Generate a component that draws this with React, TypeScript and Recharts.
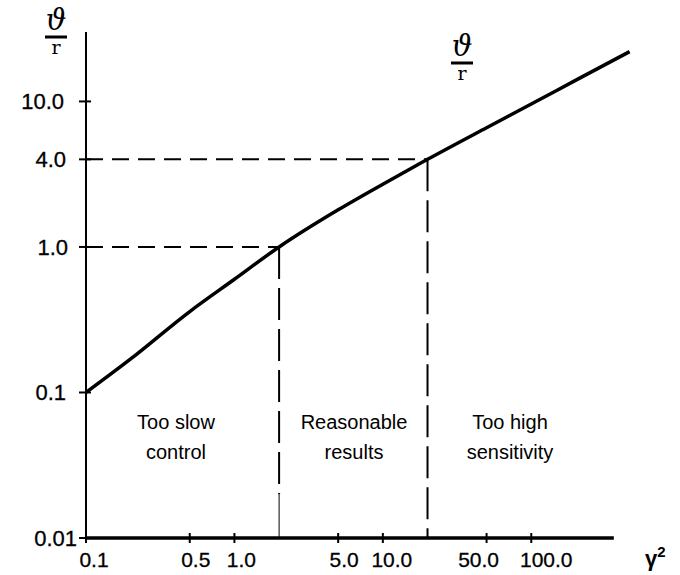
import { LineChart, Line, XAxis, YAxis, ReferenceLine } from 'recharts';

// gamma^2 (x) and theta/r (y)
const gammaSq = [0.1, 0.2, 0.5, 1, 2, 5, 10, 20, 50, 100, 200, 460];
const thetaR = [0.1, 0.17, 0.36, 0.6, 1.0, 1.8, 2.7, 4.0, 6.6, 9.6, 14, 22];

const xTicks = [0.1, 0.5, 1, 5, 10, 50, 100];
const xTickLabels = ['0.1', '0.5', '1.0', '5.0', '10.0', '50.0', '100.0'];
const yTicks = [0.01, 0.1, 1, 4, 10];
const yTickLabels = ['0.01', '0.1', '1.0', '4.0', '10.0'];

// region borders: gamma^2 and the theta/r they meet the curve at
const borderX = [2, 20];
const borderY = [1, 4];
const dashEndY = [0.02, 0.01]; // first border turns into a thin solid line near the axis
const xAxisEnd = 360;

const regionText = [
  ['Too slow', 'control'],
  ['Reasonable', 'results'],
  ['Too high', 'sensitivity'],
];

// hand-set label nudges of the original (pixels)
const xLabelShift = [8, 6, 7, 6, 9, -8, 15];
const yLabelGap = [9, 20, 18, 20, 22];
const regionCenters = [176, 354, 510];

const FONT = '"Liberation Sans", Arial, sans-serif';

const rows = gammaSq.map((x, i) => ({ x, y: thetaR[i] }));

function XTick(props: any) {
  const { x, y, payload } = props;
  const i = xTicks.indexOf(payload.value);
  return (
    <g>
      <line x1={x} x2={x} y1={y - 5} y2={y + 5} stroke="#000" strokeWidth={2} />
      <text
        x={x + xLabelShift[i]}
        y={y + 29}
        textAnchor="middle"
        fontFamily={FONT}
        fontSize={21}
        fill="#000"
        stroke="#000"
        strokeWidth={0.3}
      >
        {xTickLabels[i]}
      </text>
    </g>
  );
}

function YTick(props: any) {
  const { x, y, payload } = props;
  const i = yTicks.indexOf(payload.value);
  return (
    <g>
      <line x1={x - 7} x2={x + 5} y1={y} y2={y} stroke="#000" strokeWidth={2} />
      <text
        x={x - yLabelGap[i]}
        y={y + 8}
        textAnchor="end"
        fontFamily={FONT}
        fontSize={22}
        fill="#000"
        stroke="#000"
        strokeWidth={0.3}
      >
        {yTickLabels[i]}
      </text>
    </g>
  );
}

function Frac({ cx, top }: { cx: number; top: number }) {
  return (
    <g>
      <text x={cx} y={top + 26} textAnchor="middle" fontFamily="DejaVu Serif" fontStyle="italic" fontSize={29} fill="#000">
        ϑ
      </text>
      <line x1={cx - 11} x2={cx + 11} y1={top + 33} y2={top + 33} stroke="#000" strokeWidth={3} />
      <text x={cx} y={top + 50} textAnchor="middle" fontFamily="DejaVu Serif" fontSize={19} fill="#000">
        r
      </text>
    </g>
  );
}

export default function App() {
  return (
    <div style={{ position: 'absolute', left: 0, top: 0, width: 680, height: 575, background: '#fff' }}>
      <LineChart width={680} height={575} data={rows} margin={{ top: 32, right: 45, bottom: 7, left: 0 }}>
        <XAxis
          dataKey="x"
          type="number"
          scale="log"
          domain={[0.1, 500]}
          allowDataOverflow
          ticks={xTicks}
          axisLine={false}
          tickLine={false}
          tickSize={0}
          tickMargin={0}
          height={30}
          tick={<XTick />}
          interval={0}
        />
        <YAxis
          type="number"
          scale="log"
          domain={[0.01, 30]}
          allowDataOverflow
          ticks={yTicks}
          width={86}
          axisLine={{ stroke: '#000', strokeWidth: 2 }}
          tickLine={false}
          tickSize={0}
          tickMargin={0}
          tick={<YTick />}
          interval={0}
        />
        <ReferenceLine
          segment={[{ x: 0.1, y: 0.01 }, { x: xAxisEnd, y: 0.01 }]}
          stroke="#000"
          strokeWidth={3.5}
          ifOverflow="visible"
        />
        {borderX.map((bx, i) => (
          <ReferenceLine
            key={'h' + i}
            segment={[{ x: 0.1, y: borderY[i] }, { x: bx, y: borderY[i] }]}
            stroke="#000"
            strokeWidth={2}
            strokeDasharray="17 9"
            ifOverflow="visible"
          />
        ))}
        {borderX.map((bx, i) => (
          <ReferenceLine
            key={'v' + i}
            segment={[{ x: bx, y: borderY[i] }, { x: bx, y: dashEndY[i] }]}
            stroke="#000"
            strokeWidth={2}
            strokeDasharray="32 9"
            ifOverflow="visible"
          />
        ))}
        <ReferenceLine
          segment={[{ x: borderX[0], y: dashEndY[0] }, { x: borderX[0], y: 0.01 }]}
          stroke="#000"
          strokeWidth={1}
          ifOverflow="visible"
        />
        <Line
          dataKey="y"
          type="monotone"
          stroke="#000"
          strokeWidth={3.5}
          dot={false}
          isAnimationActive={false}
        />
      </LineChart>
      <svg width={680} height={575} style={{ position: 'absolute', left: 0, top: 0, pointerEvents: 'none' }}>
        <Frac cx={56} top={4} />
        <Frac cx={462} top={30} />
        {regionText.map((lines, i) => (
          <text key={i} textAnchor="middle" fontFamily={FONT} fontSize={20} fill="#000">
            <tspan x={regionCenters[i]} y={429}>{lines[0]}</tspan>
            <tspan x={regionCenters[i]} y={459}>{lines[1]}</tspan>
          </text>
        ))}
        <text x={645} y={566} fontFamily={FONT} fontWeight="bold" fontSize={22} fill="#000">
          γ<tspan dy={-9} fontSize={15}>2</tspan>
        </text>
      </svg>
    </div>
  );
}
